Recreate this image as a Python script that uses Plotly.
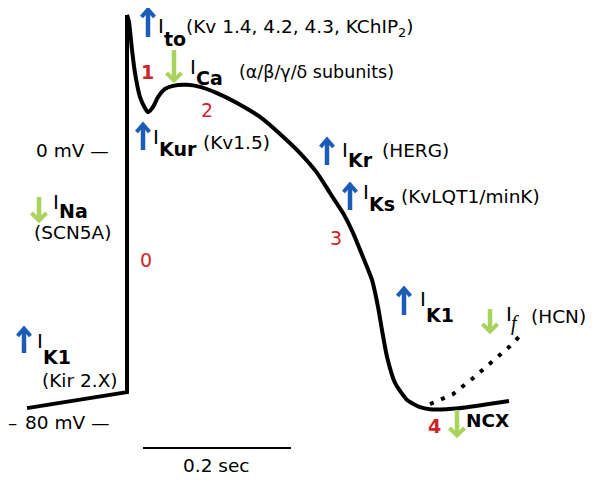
import plotly.graph_objects as go

# ---------------- data (time in ms, membrane potential in mV) ----------------
rest_t = [-135.1, 0.0]
rest_v = [-75.7, -71.0]
upstroke_t = [0.0, 0.0]
upstroke_v = [-71.0, 39.6]
repol_t = [0.0, 2.7, 6.8, 10.8, 17.6, 24.3, 28.4, 35.1, 41.9, 51.4, 62.2, 81.1,
           98.6, 121.6, 148.6, 179.7, 206.8, 233.8, 256.8, 274.3, 291.9, 305.4,
           318.9, 331.1, 339.2, 344.6, 351.4, 362.2, 378.4, 395.9, 409.5, 448.6, 516.2]
repol_v = [39.6, 37.5, 29.3, 22.6, 15.5, 12.3, 11.1, 12.6, 15.5, 17.9, 18.8, 19.1,
           18.5, 16.7, 13.8, 9.7, 4.7, -0.9, -6.7, -12.6, -18.5, -24.3,
           -31.4, -38.1, -46.0, -52.8, -60.7, -68.3, -73.3, -75.4, -76.0, -75.7, -73.6]
if_t = [409.5, 440.5, 467.6, 491.9, 516.2, 529.7]
if_v = [-74.5, -71.6, -66.9, -62.5, -57.8, -54.8]

voltage_ticks = [0, -80]
voltage_tick_labels = ["0 mV \u2014", "80 mV \u2014"]
scale_bar_ms = 200
scale_bar_label = "0.2 sec"
phase_labels = ["0", "1", "2", "3", "4"]

# page body has an 8px margin; the figure covers page pixels 8..604 x 8..493
OFF = 8
W, H = 596, 485
BLUE = "#1b5cb6"
GREEN = "#a8d35c"
RED = "#d0232b"
FONT = "DejaVu Sans"


def px(x):
    return (x - OFF) / W


def py(y):
    return 1 - (y - OFF) / H


fig = go.Figure()
fig.add_trace(go.Scatter(x=rest_t + upstroke_t[1:], y=rest_v + upstroke_v[1:], mode="lines",
                         line=dict(color="black", width=4), hoverinfo="skip"))
fig.add_trace(go.Scatter(x=repol_t, y=repol_v, mode="lines",
                         line=dict(color="black", width=4, shape="spline", smoothing=0.6),
                         hoverinfo="skip"))
fig.add_trace(go.Scatter(x=if_t, y=if_v, mode="lines",
                         line=dict(color="black", width=4, dash="4px,8px"), hoverinfo="skip"))

ann = []
shapes = []


def text(x, y, s, size=18.5, color="black", anchor="left", family=FONT):
    ann.append(dict(x=px(x), y=py(y), xref="paper", yref="paper", text=s, showarrow=False,
                    xanchor=anchor, yanchor="middle", borderpad=0, borderwidth=0,
                    font=dict(family=family, size=size, color=color)))


def arrow(cx, y_top, y_bot, up=True, color=BLUE, hw=6.5, hl=7.5):
    if up:
        tip, tail, s = y_top + 1.5, y_bot, 1
    else:
        tip, tail, s = y_bot - 1.5, y_top, -1
    shapes.append(dict(type="line", xref="paper", yref="paper",
                       x0=px(cx), x1=px(cx), y0=py(tail), y1=py(tip + s * 1.5),
                       line=dict(color=color, width=4.5)))
    path = "M%.5f,%.5f L%.5f,%.5f L%.5f,%.5f" % (
        px(cx - hw), py(tip + s * hl), px(cx), py(tip), px(cx + hw), py(tip + s * hl))
    shapes.append(dict(type="path", xref="paper", yref="paper", path=path,
                       line=dict(color=color, width=4)))


def current(x_i, y_i, sub, y_sub):
    text(x_i, y_i, "I", size=20)
    text(x_i + 6, y_sub, "<b>%s</b>" % sub, size=19)


# I_to
arrow(148, 8, 37, True, BLUE)
current(157.5, 26, "to", 39)
text(185.5, 28, "(Kv 1.4, 4.2, 4.3, KChIP<sub>2</sub>)")
# I_Ca
arrow(174, 50, 82, False, GREEN, hw=7.5)
current(190, 67, "Ca", 78)
text(238.5, 72, "(\u03b1/\u03b2/\u03b3/\u03b4 subunits)", 17.5)
# I_Kur
arrow(143, 123, 150, True, BLUE)
current(152.5, 137, "Kur", 149)
text(203, 142, "(Kv1.5)")
# I_Kr
arrow(327, 138, 165, True, BLUE)
current(342, 150, "Kr", 160)
text(382, 150, "(HERG)")
# I_Ks
arrow(350, 183, 210, True, BLUE)
current(362.5, 192, "Ks", 204)
text(401, 197, "(KvLQT1/minK)")
# I_Na
arrow(39, 197, 222, False, GREEN, hw=7.5)
current(53, 202, "Na", 211)
text(33.5, 232, "(SCN5A)")
# I_K1 (left)
arrow(24, 327, 353, True, BLUE)
current(36.5, 341, "K1", 357)
text(41.5, 380, "(Kir 2.X)")
# I_K1 (right)
arrow(404, 287, 315, True, BLUE)
current(419.5, 299, "K1", 315)
# I_f
arrow(490, 309, 333, False, GREEN, hw=7.5)
text(506, 314, "I", size=20)
text(511, 323, "<i>f</i>", size=20, family="Liberation Serif")
text(530.5, 316, "(HCN)")
# NCX
arrow(457, 410, 437, False, GREEN, hw=7.5)
text(466, 420, "<b>NCX</b>", 18.5)

# phase numbers
for lbl, (x, y, b) in zip(phase_labels, [(146, 260, False), (147, 72, True), (207, 110, False),
                                         (336, 238, False), (434, 426, True)]):
    ann.append(dict(x=px(x), y=py(y), xref="paper", yref="paper",
                    text=("<b>%s</b>" % lbl) if b else lbl, showarrow=False,
                    xanchor="center", yanchor="middle", borderpad=0, borderwidth=0,
                    font=dict(family=FONT, size=19, color=RED)))

# voltage labels
for v, lbl in zip(voltage_ticks, voltage_tick_labels):
    ann.append(dict(x=px(108.5), y=v, xref="paper", yref="y", text=lbl, showarrow=False,
                    xanchor="right", yanchor="middle", borderpad=0, borderwidth=0,
                    font=dict(family=FONT, size=18.5, color="black")))
ann.append(dict(x=0, y=voltage_ticks[1], xref="paper", yref="y", text="\u2013", showarrow=False,
                xanchor="left", yanchor="middle", borderpad=0, borderwidth=0,
                font=dict(family=FONT, size=18.5, color="black")))

# scale bar
sb_start = 21.6
sb_v = -87.4
shapes.append(dict(type="line", x0=sb_start, x1=sb_start + scale_bar_ms, y0=sb_v, y1=sb_v,
                   xref="x", yref="y", line=dict(color="black", width=2)))
ann.append(dict(x=sb_start + scale_bar_ms / 2, y=py(465), xref="x", yref="paper",
                text=scale_bar_label, showarrow=False, xanchor="center", yanchor="middle",
                borderpad=0, borderwidth=0,
                font=dict(family=FONT, size=18.5, color="black")))

fig.update_layout(
    width=W, height=H, margin=dict(l=0, r=0, t=0, b=0),
    paper_bgcolor="white", plot_bgcolor="white", showlegend=False,
    xaxis=dict(range=[(OFF - 127) / 0.74, (OFF + W - 127) / 0.74], visible=False, fixedrange=True),
    yaxis=dict(range=[(150 - OFF - H) / 3.41, (150 - OFF) / 3.41], visible=False, fixedrange=True),
    annotations=ann,
    shapes=shapes,
)
fig.write_html("out.html")
